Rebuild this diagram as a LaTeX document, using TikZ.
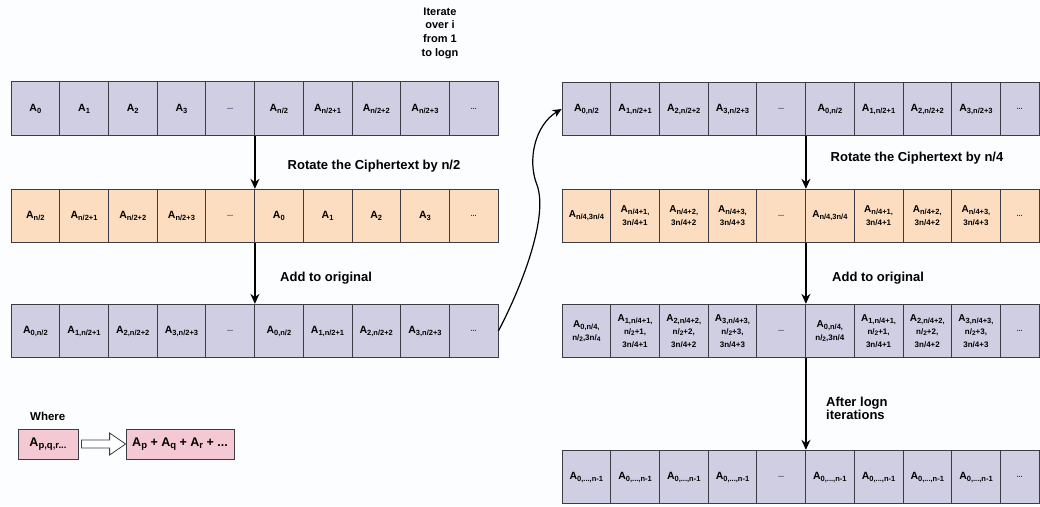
\documentclass[tikz,border=0pt]{standalone}
\usepackage{fontspec}
\setmainfont{Liberation Sans}
\usetikzlibrary{arrows.meta,calc}
\definecolor{purp}{HTML}{D0CEE2}
\definecolor{orng}{HTML}{FCDDC0}
\definecolor{pinkf}{HTML}{F5C9D3}
\definecolor{cellline}{HTML}{3C3C46}
\definecolor{dotc}{HTML}{2E3A6E}
\definecolor{bgc}{HTML}{FCFDFE}
\newcommand{\sbs}[1]{\raisebox{-0.35ex}{\fontsize{7.5}{8}\selectfont #1}}
\newcommand{\ssb}[1]{\raisebox{-0.3ex}{\fontsize{6.5}{7}\selectfont #1}}
\newcommand{\lsb}[1]{\raisebox{-0.35ex}{\fontsize{9.5}{10}\selectfont #1}}
\newcommand{\dd}{{\color{dotc}\fontsize{7.5}{8}\selectfont ...}}
\newcommand{\sm}[1]{{\fontsize{8}{9}\selectfont #1}}
\tikzset{
  cellbox/.style={draw=cellline, line width=0.8pt, minimum width=48.7pt, minimum height=53.5pt,
    inner sep=0pt, align=center, font=\bfseries\fontsize{10.5}{11}\selectfont},
  smallcell/.style={font=\bfseries\fontsize{10}{13}\selectfont},
  lastcell/.style={minimum width=38.7pt},
  arr/.style={-{Stealth[length=10pt,width=9pt]}, line width=1.4pt, black},
  lbl/.style={font=\bfseries\fontsize{13}{13.5}\selectfont, inner sep=0pt, align=center},
  legbox/.style={draw=cellline, fill=pinkf, line width=0.8pt, minimum height=30pt, inner sep=0pt,
    font=\bfseries\fontsize{12.5}{13}\selectfont}
}
\begin{document}
\begin{tikzpicture}[x=1pt,y=-1pt]
\fill[bgc] (0,0) rectangle (1040,506);
\useasboundingbox (0,0) rectangle (1040,506);

% left row 1
\foreach \t [count=\i, evaluate=\i as \x using 11+48.7*(\i-0.5)] in
  {{A\sbs{0}},{A\sbs{1}},{A\sbs{2}},{A\sbs{3}},{\dd},{A\sbs{n/2}},{A\sbs{n/2+1}},{A\sbs{n/2+2}},{A\sbs{n/2+3}},{\dd}}
  \node[cellbox, fill=purp] (La\i) at (\x,108.5) {\t};
% left row 2
\foreach \t [count=\i, evaluate=\i as \x using 11+48.7*(\i-0.5)] in
  {{A\sbs{n/2}},{A\sbs{n/2+1}},{A\sbs{n/2+2}},{A\sbs{n/2+3}},{\dd},{A\sbs{0}},{A\sbs{1}},{A\sbs{2}},{A\sbs{3}},{\dd}}
  \node[cellbox, fill=orng] (Lb\i) at (\x,216) {\t};
% left row 3
\foreach \t [count=\i, evaluate=\i as \x using 11+48.7*(\i-0.5)] in
  {{A\sbs{0,n/2}},{A\sbs{1,n/2+1}},{A\sbs{2,n/2+2}},{A\sbs{3,n/2+3}},{\dd},{A\sbs{0,n/2}},{A\sbs{1,n/2+1}},{A\sbs{2,n/2+2}},{A\sbs{3,n/2+3}},{\dd}}
  \node[cellbox, fill=purp] (Lc\i) at (\x,331) {\t};

% right row 1
\foreach \t [count=\i, evaluate=\i as \x using 562+48.7*(\i-0.5)] in
  {{A\sbs{0,n/2}},{A\sbs{1,n/2+1}},{A\sbs{2,n/2+2}},{A\sbs{3,n/2+3}},{\dd},{A\sbs{0,n/2}},{A\sbs{1,n/2+1}},{A\sbs{2,n/2+2}},{A\sbs{3,n/2+3}}}
  \node[cellbox, fill=purp] (Ra\i) at (\x,109) {\t};
\node[cellbox, lastcell, fill=purp] (Ra10) at (1019.65,109) {\dd};
% right row 2
\foreach \t [count=\i, evaluate=\i as \x using 562+48.7*(\i-0.5)] in
  {{A\sbs{n/4,3n/4}},{A\sbs{n/4+1,}\\\sm{3n/4+1}},{A\sbs{n/4+2,}\\\sm{3n/4+2}},{A\sbs{n/4+3,}\\\sm{3n/4+3}},{\dd},
   {A\sbs{n/4,3n/4}},{A\sbs{n/4+1,}\\\sm{3n/4+1}},{A\sbs{n/4+2,}\\\sm{3n/4+2}},{A\sbs{n/4+3,}\\\sm{3n/4+3}}}
  \node[cellbox, smallcell, fill=orng] (Rb\i) at (\x,216) {\t};
\node[cellbox, lastcell, fill=orng] (Rb10) at (1019.65,216) {\dd};
% right row 3
\foreach \t [count=\i, evaluate=\i as \x using 562+48.7*(\i-0.5)] in
  {{A\sbs{0,n/4,}\\\sm{n/\ssb{2},3n/\ssb{4}}},{A\sbs{1,n/4+1,}\\\sm{n/\ssb{2}+1,}\\\sm{3n/4+1}},{A\sbs{2,n/4+2,}\\\sm{n/\ssb{2}+2,}\\\sm{3n/4+2}},{A\sbs{3,n/4+3,}\\\sm{n/\ssb{2}+3,}\\\sm{3n/4+3}},{\dd},
   {A\sbs{0,n/4,}\\\sm{n/\ssb{2},3n/4}},{A\sbs{1,n/4+1,}\\\sm{n/\ssb{2}+1,}\\\sm{3n/4+1}},{A\sbs{2,n/4+2,}\\\sm{n/\ssb{2}+2,}\\\sm{3n/4+2}},{A\sbs{3,n/4+3,}\\\sm{n/\ssb{2}+3,}\\\sm{3n/4+3}}}
  \node[cellbox, smallcell, fill=purp] (Rc\i) at (\x,331) {\t};
\node[cellbox, lastcell, fill=purp] (Rc10) at (1019.65,331) {\dd};
% right row 4
\foreach \t [count=\i, evaluate=\i as \x using 562+48.7*(\i-0.5)] in
  {{A\sbs{0,...,n-1}},{A\sbs{0,...,n-1}},{A\sbs{0,...,n-1}},{A\sbs{0,...,n-1}},{\dd},{A\sbs{0,...,n-1}},{A\sbs{0,...,n-1}},{A\sbs{0,...,n-1}},{A\sbs{0,...,n-1}}}
  \node[cellbox, fill=purp] (Rd\i) at (\x,477) {\t};
\node[cellbox, lastcell, fill=purp] (Rd10) at (1019.65,477) {\dd};

% vertical arrows
\draw[arr] (La5.south east) -- (Lb5.north east);
\draw[arr] (Lb5.south east) -- (Lc5.north east);
\draw[arr] (Ra5.south east) -- (Rb5.north east);
\draw[arr] (Rb5.south east) -- (Rc5.north east);
\draw[arr] (Rc5.south east) -- (Rd5.north east);

% curved connector
\coordinate (bend) at (537,185);
\draw[-{Stealth[length=9pt,width=8pt]}, line width=1.2pt] (Lc10.east) .. controls (525,280) and (548,215) .. (bend)
  .. controls (527,160) and (535,125) .. (Ra1.west);

% labels
\node[lbl, font=\bfseries\fontsize{11}{13.7}\selectfont] (iter) at (440,33) {Iterate\\over i\\from 1\\to logn};
\node[lbl] (rot1) at (374,166) {Rotate the Ciphertext by n/2};
\node[lbl, anchor=west] (add1) at (280,278) {Add to original};
\node[lbl] (rot2) at (917,158) {Rotate the Ciphertext by n/4};
\node[lbl, anchor=west] (add2) at (832,278) {Add to original};
\node[lbl, anchor=west, align=left] (after) at (826,408.5) {After logn\\iterations};

% legend
\node[lbl, anchor=west, font=\bfseries\fontsize{11.5}{12}\selectfont] (where) at (30,416) {Where};
\node[legbox, minimum width=60pt] (p1) at (48,444) {A\lsb{p,q,r...}};
\node[legbox, minimum width=108pt] (p2) at (180,444) {A\lsb{p} + A\lsb{q} + A\lsb{r} + ...};
\draw[draw=cellline, fill=white, line width=0.8pt]
  ($(p1.east)+(3,-4)$) -- ($(p2.west)+(-16,-4)$) -- ($(p2.west)+(-16,-11)$) -- (p2.west)
  -- ($(p2.west)+(-16,11)$) -- ($(p2.west)+(-16,4)$) -- ($(p1.east)+(3,4)$) -- cycle;
\end{tikzpicture}
\end{document}
